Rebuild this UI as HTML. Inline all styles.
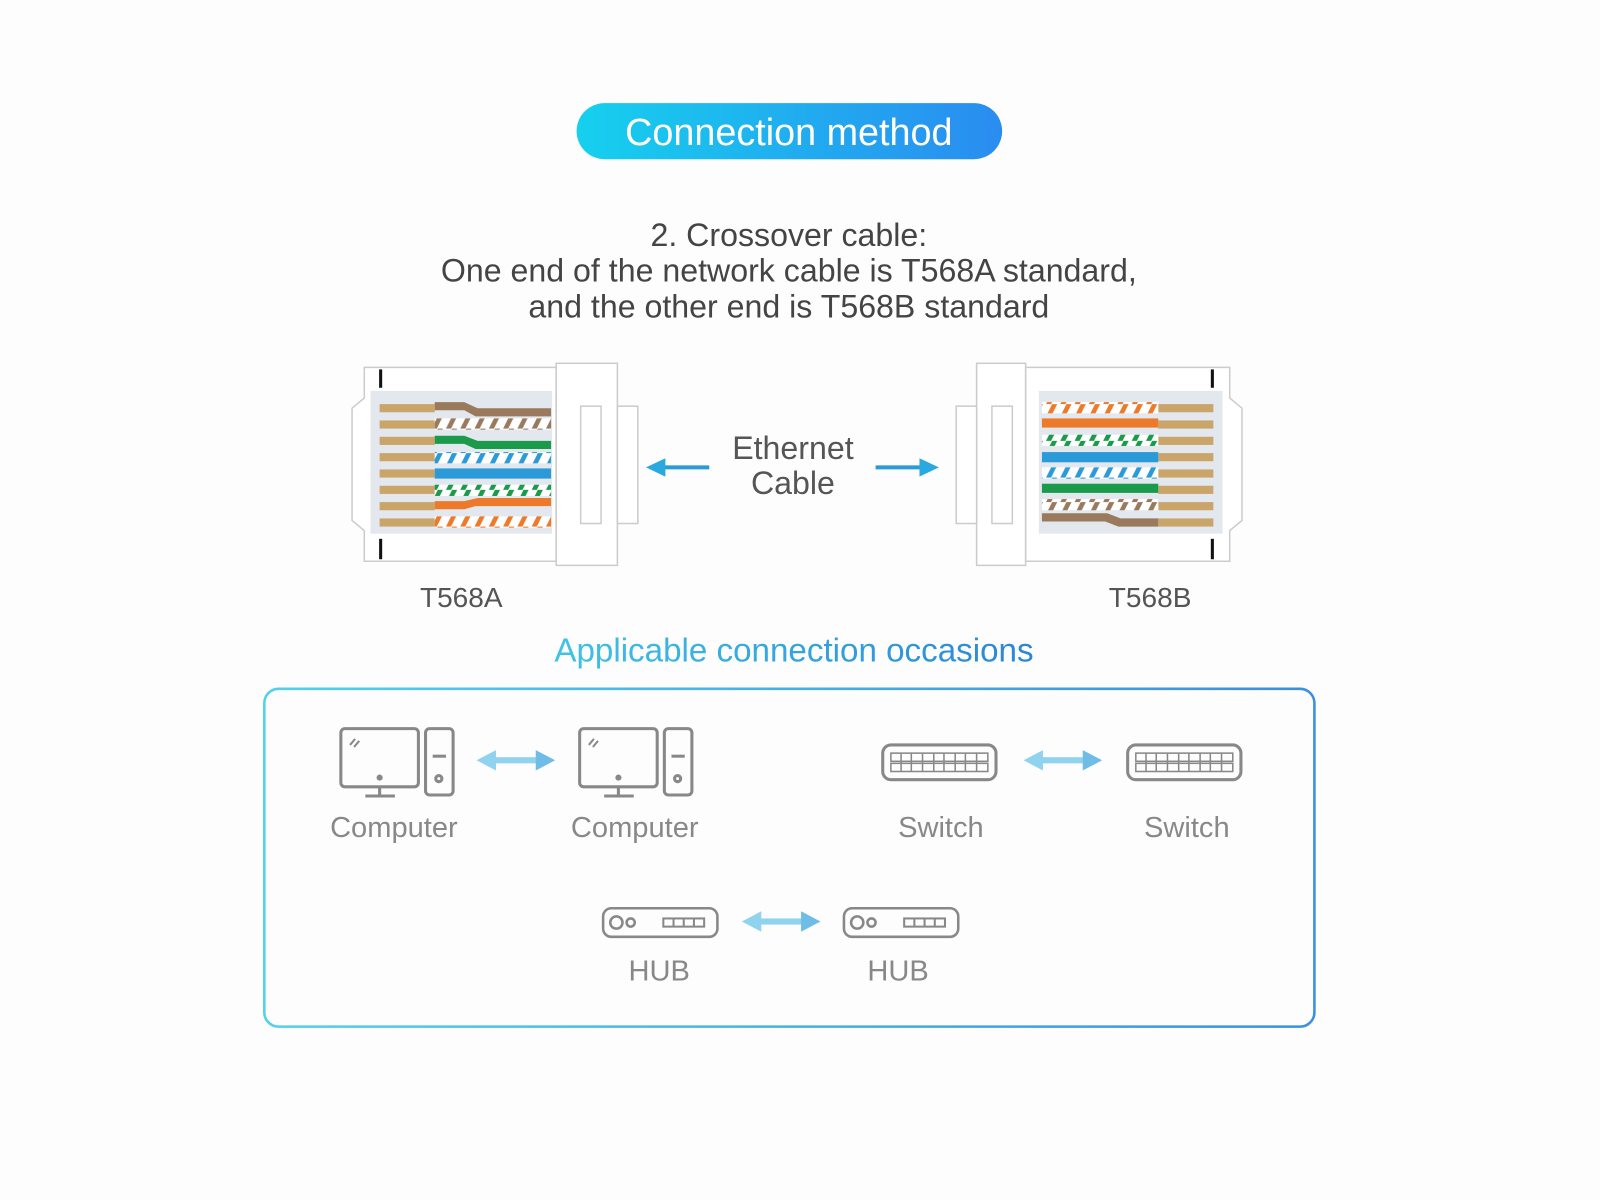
<!DOCTYPE html>
<html><head><meta charset="utf-8"><style>
html,body{margin:0;padding:0;background:#fdfdfd;}
svg{display:block}
text{font-family:"Liberation Sans",sans-serif;}
</style></head><body>
<svg width="1600" height="1200" viewBox="0 0 1600 1200" xmlns="http://www.w3.org/2000/svg">
<defs>
<linearGradient id="pill" x1="0" x2="1"><stop offset="0" stop-color="#16d0ee"/><stop offset="1" stop-color="#2a8cf0"/></linearGradient>
<linearGradient id="occ" x1="0" x2="1"><stop offset="0" stop-color="#3fc3e6"/><stop offset="1" stop-color="#2a86d6"/></linearGradient>
<linearGradient id="box" x1="0" x2="1"><stop offset="0" stop-color="#52d0ec"/><stop offset="1" stop-color="#3a8fe0"/></linearGradient>
<pattern id="sbr" width="14" height="12" patternUnits="userSpaceOnUse"><rect width="14" height="12" fill="#fff"/><polygon points="3,12 9,0 14,0 8,12" fill="#9a7a5c"/></pattern>
<pattern id="sgr" width="14" height="12" patternUnits="userSpaceOnUse"><rect width="14" height="12" fill="#fff"/><polygon points="3,12 9,0 14,0 8,12" fill="#1a9a4a"/></pattern>
<pattern id="sbl" width="14" height="12" patternUnits="userSpaceOnUse"><rect width="14" height="12" fill="#fff"/><polygon points="3,12 9,0 14,0 8,12" fill="#2a9ad8"/></pattern>
<pattern id="sor" width="14" height="12" patternUnits="userSpaceOnUse"><rect width="14" height="12" fill="#fff"/><polygon points="3,12 9,0 14,0 8,12" fill="#ec7a2a"/></pattern>
</defs>
<g transform="scale(1.0205)">
<rect x="565" y="101" width="417" height="55" rx="27.5" fill="url(#pill)"/>
<text x="773" y="142" font-size="37" fill="#fff" text-anchor="middle">Connection method</text>

<g font-size="31.5" fill="#444" text-anchor="middle">
<text x="773" y="241">2. Crossover cable:</text>
<text x="773" y="276">One end of the network cable is T568A standard,</text>
<text x="773" y="311">and the other end is T568B standard</text>
</g>

<!-- Left connector -->
<g stroke="#ccc" stroke-width="1.5" fill="#fff">
<path d="M357 360 H545 V550 H357 V520 L345 510 V400 L357 390 Z"/>
<rect x="545" y="356" width="60" height="198"/>
<rect x="569" y="398" width="20" height="115"/>
<rect x="605" y="398" width="20" height="115"/>
</g>
<rect x="363" y="383" width="178" height="140" fill="#e3e8ef"/>
<line x1="373" y1="362" x2="373" y2="380" stroke="#111" stroke-width="3"/>
<line x1="373" y1="528" x2="373" y2="548" stroke="#111" stroke-width="3"/>
<g>
<rect x="372" y="396" width="54" height="8" fill="#c9a56a"/><rect x="372" y="412" width="54" height="8" fill="#c9a56a"/>
<rect x="372" y="428" width="54" height="8" fill="#c9a56a"/><rect x="372" y="444" width="54" height="8" fill="#c9a56a"/>
<rect x="372" y="460" width="54" height="8" fill="#c9a56a"/><rect x="372" y="476" width="54" height="8" fill="#c9a56a"/>
<rect x="372" y="492" width="54" height="8" fill="#c9a56a"/><rect x="372" y="508" width="54" height="8" fill="#c9a56a"/>
<path d="M426 394 H455 L468 400 H540 V408 H466 L455 402 H426 Z" fill="#9a7a5c"/>
<rect x="426" y="410" width="114" height="11" fill="url(#sbr)"/>
<path d="M426 427 H455 L468 432 H540 V440 H466 L455 435 H426 Z" fill="#1a9a4a"/>
<rect x="426" y="443" width="114" height="11" fill="url(#sbl)"/>
<rect x="426" y="459" width="114" height="10" fill="#2a9ad8"/>
<rect x="426" y="475" width="114" height="11" fill="url(#sgr)"/>
<path d="M426 491 H455 L468 488 H540 V496 H466 L455 499 H426 Z" fill="#ec7a2a"/>
<rect x="426" y="506" width="114" height="11" fill="url(#sor)"/>
</g>

<!-- Right connector -->
<g stroke="#ccc" stroke-width="1.5" fill="#fff">
<path d="M1005 360 H1205 V390 L1217 400 V510 L1205 520 V550 H1005 Z"/>
<rect x="957" y="356" width="48" height="198"/>
<rect x="972" y="398" width="20" height="115"/>
<rect x="937" y="398" width="20" height="115"/>
</g>
<rect x="1018" y="383" width="180" height="140" fill="#e3e8ef"/>
<line x1="1188" y1="362" x2="1188" y2="380" stroke="#111" stroke-width="3"/>
<line x1="1188" y1="528" x2="1188" y2="548" stroke="#111" stroke-width="3"/>
<g>
<rect x="1135" y="396" width="54" height="8" fill="#c9a56a"/><rect x="1135" y="412" width="54" height="8" fill="#c9a56a"/>
<rect x="1135" y="428" width="54" height="8" fill="#c9a56a"/><rect x="1135" y="444" width="54" height="8" fill="#c9a56a"/>
<rect x="1135" y="460" width="54" height="8" fill="#c9a56a"/><rect x="1135" y="476" width="54" height="8" fill="#c9a56a"/>
<rect x="1135" y="492" width="54" height="8" fill="#c9a56a"/><rect x="1135" y="508" width="54" height="8" fill="#c9a56a"/>
<rect x="1021" y="394" width="114" height="11" fill="url(#sor)"/>
<rect x="1021" y="410" width="114" height="9" fill="#ec7a2a"/>
<rect x="1021" y="426" width="114" height="11" fill="url(#sgr)"/>
<rect x="1021" y="443" width="114" height="10" fill="#2a9ad8"/>
<rect x="1021" y="458" width="114" height="11" fill="url(#sbl)"/>
<rect x="1021" y="474" width="114" height="9" fill="#1a9a4a"/>
<rect x="1021" y="489" width="114" height="11" fill="url(#sbr)"/>
<path d="M1021 503 H1085 L1098 508 H1135 V516 H1096 L1083 511 H1021 Z" fill="#9a7a5c"/>
</g>

<!-- Ethernet arrows -->
<line x1="650" y1="458" x2="695" y2="458" stroke="#2a9ad8" stroke-width="4"/>
<polygon points="633,458 652,449 652,467" fill="#2aa8e0"/>
<line x1="858" y1="458" x2="903" y2="458" stroke="#2a9ad8" stroke-width="4"/>
<polygon points="920,458 901,449 901,467" fill="#2aa8e0"/>
<g font-size="31.5" fill="#555" text-anchor="middle">
<text x="777" y="450">Ethernet</text>
<text x="777" y="484">Cable</text>
</g>
<g font-size="27.5" fill="#555" text-anchor="middle">
<text x="452" y="595">T568A</text>
<text x="1127" y="595">T568B</text>
</g>

<text x="778" y="648" font-size="32.5" fill="url(#occ)" text-anchor="middle">Applicable connection occasions</text>
<rect x="259" y="675" width="1029" height="331" rx="14" fill="none" stroke="url(#box)" stroke-width="2.5"/>

<!-- computers -->
<g id="pc" stroke="#888" stroke-width="3" fill="none">
<rect x="334" y="714" width="76" height="57" rx="4"/>
<line x1="372" y1="772" x2="372" y2="780"/><line x1="358" y1="780" x2="387" y2="780"/>
<rect x="417" y="714" width="27" height="65" rx="4"/>
<line x1="424" y1="741" x2="437" y2="741"/><circle cx="430" cy="763" r="3"/>
<path d="M343 730 L348 724 M347 732 L352 726" stroke-width="2"/>
<circle cx="372" cy="762" r="1.5" fill="#888"/>
</g>
<use href="#pc" x="234"/>
<g font-size="28.5" fill="#888" text-anchor="middle">
<text x="386" y="820">Computer</text><text x="622" y="820">Computer</text>
<text x="922" y="820">Switch</text><text x="1163" y="820">Switch</text>
<text x="646" y="961">HUB</text><text x="880" y="961">HUB</text>
</g>

<!-- switches -->
<g id="sw" stroke="#888" fill="none">
<rect x="865" y="730" width="111" height="34" rx="8" stroke-width="3"/>
<g stroke-width="1.5">
<rect x="873" y="738" width="95" height="8"/><rect x="873" y="748" width="95" height="8"/>
<path d="M883 738V756M893 738V756M904 738V756M915 738V756M925 738V756M936 738V756M946 738V756M957 738V756"/>
</g>
</g>
<use href="#sw" x="240"/>

<!-- hubs -->
<g id="hub" stroke="#888" fill="none" stroke-width="2.5">
<rect x="591" y="890" width="112" height="28" rx="8"/>
<circle cx="604" cy="904" r="6"/><circle cx="618" cy="904" r="4"/>
<rect x="650" y="900" width="40" height="8" stroke-width="2"/>
<path d="M660 900V908M670 900V908M680 900V908" stroke-width="2"/>
</g>
<use href="#hub" x="236"/>

<!-- double arrows -->
<g id="da" fill="#8fd3ef">
<rect x="482" y="742" width="48" height="6"/>
<polygon points="467,745 486,735 486,755"/>
<polygon points="544,745 525,735 525,755" fill="#6fbde6"/>
</g>
<use href="#da" x="536"/>
<use href="#da" x="260" y="158"/>
</g>
</svg>
</body></html>
